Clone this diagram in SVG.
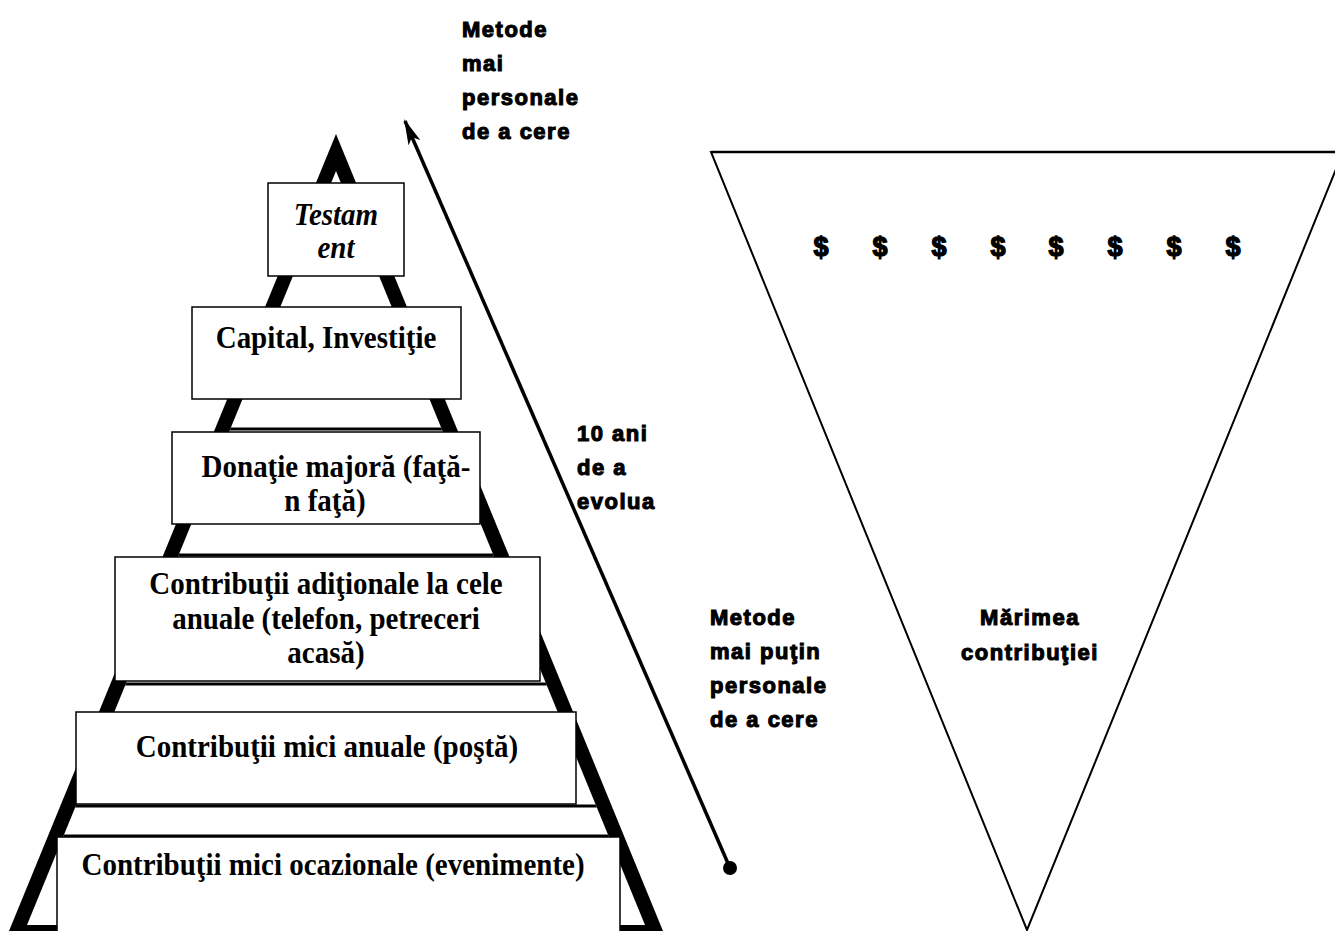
<svg xmlns="http://www.w3.org/2000/svg" width="1335" height="931" viewBox="0 0 1335 931">
<defs>
<style>
.box{fill:#fff;stroke:#000;stroke-width:1.5}
.bt{font-family:"Liberation Serif","Times New Roman",serif;font-weight:bold;font-size:29px;fill:#000;text-anchor:middle}
.it{font-style:italic}
.hv{font-family:"Liberation Sans",Arial,sans-serif;font-weight:bold;font-size:22px;fill:#000;stroke:#000;stroke-width:1.1;letter-spacing:1.5px}
.dl{font-family:"Liberation Sans",Arial,sans-serif;font-weight:bold;font-size:27px;fill:#000;stroke:#000;stroke-width:1.3;text-anchor:middle}
.step{stroke:#000;stroke-width:3}
</style>
<marker id="ah" viewBox="0 0 24 12" refX="22" refY="6" markerWidth="26" markerHeight="13" markerUnits="userSpaceOnUse" orient="auto">
<path d="M0,0 L24,6 L0,12 L6,6 z" fill="#000"/>
</marker>
<clipPath id="pin"><polygon points="336,171 27,925 645,925"/></clipPath>
</defs>
<rect width="1335" height="931" fill="#fff"/>

<g id="pyramid">
<polygon points="336,134 9,931 663,931" fill="#000"/>
<polygon points="336,171 27,925 645,925" fill="#fff"/>
<g clip-path="url(#pin)">
<line class="step" x1="0" y1="429" x2="700" y2="429"/>
<line class="step" x1="0" y1="555" x2="700" y2="555"/>
<line class="step" x1="0" y1="684" x2="700" y2="684"/>
<line class="step" x1="0" y1="806" x2="700" y2="806"/>
<line class="step" x1="0" y1="836" x2="700" y2="836"/>
</g>
</g>

<g id="n-testament">
<rect class="box" x="268" y="183" width="136" height="93"/>
<text class="bt it" transform="translate(336,225) scale(1,1.1)">Testam</text>
<text class="bt it" transform="translate(336,258) scale(1,1.1)">ent</text>
</g>
<g id="n-capital">
<rect class="box" x="192" y="307" width="269" height="92"/>
<text class="bt" transform="translate(326,348) scale(1,1.1)">Capital, Investiţie</text>
</g>
<g id="n-donatie">
<rect class="box" x="172" y="432" width="308" height="92"/>
<text class="bt" transform="translate(336,477) scale(1,1.1)">Donaţie majoră (faţă-</text>
<text class="bt" transform="translate(325,511) scale(1,1.1)">n faţă)</text>
</g>
<g id="n-aditionale">
<rect class="box" x="115" y="557" width="425" height="124"/>
<text class="bt" transform="translate(326,594) scale(1,1.1)">Contribuţii adiţionale la cele</text>
<text class="bt" transform="translate(326,629) scale(1,1.1)">anuale (telefon, petreceri</text>
<text class="bt" transform="translate(326,663) scale(1,1.1)">acasă)</text>
</g>
<g id="n-anuale">
<rect class="box" x="76" y="712" width="500" height="92"/>
<text class="bt" transform="translate(327,757) scale(1,1.1)">Contribuţii mici anuale (poştă)</text>
</g>
<g id="n-ocazionale">
<rect class="box" x="57" y="837" width="563" height="96"/>
<text class="bt" transform="translate(333,875) scale(1,1.1)">Contribuţii mici ocazionale (evenimente)</text>
</g>

<g id="connectors">
<line x1="730" y1="868" x2="405" y2="121" stroke="#000" stroke-width="3.5" marker-end="url(#ah)"/>
<circle cx="730" cy="868" r="7" fill="#000"/>
</g>

<g id="n-funnel">
<polygon points="711,152 1343,152 1027,930" fill="none" stroke="#000" stroke-width="2"/>
<line x1="711" y1="152" x2="1335" y2="152" stroke="#000" stroke-width="2.5"/>
<g class="dl">
<text x="821" y="256">$</text>
<text x="880" y="256">$</text>
<text x="939" y="256">$</text>
<text x="998" y="256">$</text>
<text x="1056" y="256">$</text>
<text x="1115" y="256">$</text>
<text x="1174" y="256">$</text>
<text x="1233" y="256">$</text>
</g>
<text class="hv" x="1030" y="625" text-anchor="middle">Mărimea</text>
<text class="hv" x="1030" y="660" text-anchor="middle">contribuţiei</text>
</g>

<g id="lbl-top">
<text class="hv" x="462" y="37">Metode</text>
<text class="hv" x="462" y="71">mai</text>
<text class="hv" x="462" y="105">personale</text>
<text class="hv" x="462" y="139">de a cere</text>
</g>
<g id="lbl-mid">
<text class="hv" x="577" y="441">10 ani</text>
<text class="hv" x="577" y="475">de a</text>
<text class="hv" x="577" y="509">evolua</text>
</g>
<g id="lbl-bottom">
<text class="hv" x="710" y="625">Metode</text>
<text class="hv" x="710" y="659">mai puţin</text>
<text class="hv" x="710" y="693">personale</text>
<text class="hv" x="710" y="727">de a cere</text>
</g>
</svg>
